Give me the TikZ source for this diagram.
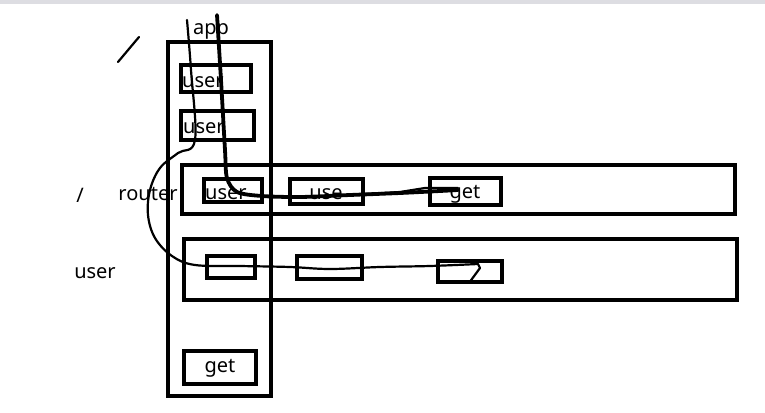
\documentclass[tikz,border=0pt]{standalone}
\usepackage{fontspec}
\setmainfont{Noto Sans}
\tikzset{
  frame/.style={line width=3.6pt},
  ink/.style={line width=2.2pt, line cap=round, line join=round},
  thickink/.style={line width=3.8pt, line cap=round, line join=round},
  lbl/.style={font=\fontsize{20}{20}\selectfont, inner sep=0pt}
}
\begin{document}
\begin{tikzpicture}[x=1pt,y=-1pt]
\useasboundingbox (0,0) rectangle (765,412);
\fill[blue!8!gray!25] (0,0) rectangle (765,4);

\node[lbl] (slash) at (80,195) {/};
\node[lbl] (router) at (148,194) {router};
\node[lbl] (userlbl) at (95,273) {user};
\node[lbl] (app) at (211,31) {app};

\draw[ink] (118,62) -- (139,37);

\draw[frame] (168,42) rectangle (271,396);
\draw[frame] (181,65) rectangle (251,92);
\node[lbl,anchor=west] (appuse1) at (182,82) {user};
\draw[frame] (181,111) rectangle (254,140);
\node[lbl,anchor=west] (appuse2) at (183,128) {user};
\draw[frame] (184,351) rectangle (256,384);
\node[lbl] (appget) at (220,368) {get};

\draw[frame] (182,165) rectangle (735,214);
\draw[frame] (204,179) rectangle (262,202);
\node[lbl,anchor=west] (ruse1) at (205,194) {user};
\draw[frame] (290,179) rectangle (363,204);
\node[lbl] (ruse2) at (326,194) {use};
\draw[frame] (430,178) rectangle (501,205);
\node[lbl] (rget) at (465,194) {get};

\draw[frame] (184,239) rectangle (737,300);
\draw[frame] (207,256) rectangle (255,278);
\draw[frame] (297,256) rectangle (362,279);
\draw[frame] (438,261) rectangle (502,282);

\draw[ink] plot[smooth,tension=0.6] coordinates {(187,20) (191,70) (195,140)
  (178,153) (160,168) (150,190) (148,215) (155,238) (172,256) (195,265)
  (240,266) (290,267) (330,269) (380,267) (430,266) (478,264)};
\draw[ink] (478,264) -- (480,268) -- (469,283);

\draw[thickink] plot[smooth,tension=0.5] coordinates {(217,15) (221,80)
  (225,150) (227,178) (237,192) (262,196) (300,197) (350,195) (400,193)
  (440,191) (458,190)};
\draw[ink] (458,188) -- (425,188) -- (400,192) -- (365,194);
\end{tikzpicture}
\end{document}
